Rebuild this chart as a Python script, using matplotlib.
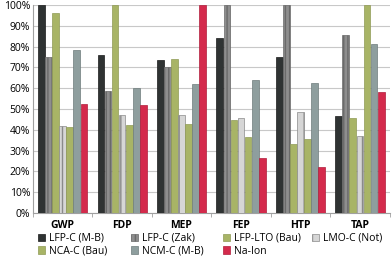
import numpy as np
from matplotlib import pyplot as plt
from matplotlib.ticker import PercentFormatter

categories = ['GWP', 'FDP', 'MEP', 'FEP', 'HTP', 'TAP']
series = ['LFP-C (M-B)', 'LFP-C (Zak)', 'LFP-LTO (Bau)', 'LMO-C (Not)',
          'NCA-C (Bau)', 'NCM-C (M-B)', 'Na-Ion']
lfp_mb = [100, 76, 73.5, 84, 75, 46.5]
lfp_zak = [75, 58.5, 70, 100, 100, 85.5]
lfp_lto = [96, 100, 74, 44.5, 33, 45.5]
lmo_not = [42, 47, 47, 45.5, 48.5, 37]
nca_bau = [41.5, 42.5, 43, 36.5, 35.5, 100]
ncm_mb = [78.5, 60, 62, 64, 62.3, 81]
na_ion = [52.5, 52, 100, 26.5, 22, 58]
values = [lfp_mb, lfp_zak, lfp_lto, lmo_not, nca_bau, ncm_mb, na_ion]

colors = ['#2f3333', '#8e8e8e', '#a8b466', '#d6d6d6', '#a8b466', '#8e9e9e', '#d42a4c']
edges = ['#1a1a1a', '#6a6a6a', '#8f9a55', '#8a8a8a', '#8f9a55', '#6e7c7c', '#b01e3c']
hatches = [None, '||||', None, '||', None, None, None]

plt.rcParams['font.family'] = ['Open Sans', 'DejaVu Sans']
plt.rcParams['hatch.color'] = '#b0b0b0'
fig = plt.figure(figsize=(3.92, 2.57), dpi=100)
ax = fig.add_axes([0.084, 0.171, 0.91, 0.81])

x = np.arange(len(categories))
width = 0.119
handles = []
for i, vals in enumerate(values):
    off = (i - 3) * width
    b = ax.bar(x + off, vals, width * 0.95, color=colors[i], edgecolor=edges[i],
               linewidth=0.5, hatch=hatches[i], label=series[i], zorder=3)
    handles.append(b)

ax.set_xlim(-0.5, len(categories) - 0.5)
ax.set_ylim(0, 100)
ax.set_yticks(range(0, 101, 10))
ax.yaxis.set_major_formatter(PercentFormatter(decimals=0))
ax.set_xticks(x)
ax.set_xticklabels(categories, fontweight='bold', fontsize=7.5)
ax.set_xticks(np.arange(-0.5, len(categories)), minor=True)
ax.tick_params(axis='x', which='major', length=0, pad=5)
ax.tick_params(axis='x', which='minor', length=3, color='#a0a0a0')
ax.tick_params(axis='y', length=0, labelsize=7.5, pad=2)
ax.grid(axis='y', color='#c8c8c8', linewidth=0.8, zorder=0)
for s in ['top', 'right']:
    ax.spines[s].set_visible(False)
ax.spines['left'].set_color('#a0a0a0')
ax.spines['bottom'].set_color('#a0a0a0')

# legend: 4 evenly spaced columns, filled row by row
columns = [[0, 4], [1, 5], [2, 6], [3]]
col_x = [38, 131, 223, 312]
for cx, col in zip(col_x, columns):
    leg = fig.legend([handles[k] for k in col], [series[k] for k in col],
                     loc='upper left', bbox_to_anchor=(cx / 392, 1 - 233 / 257),
                     ncol=1, frameon=False, fontsize=7.5, handlelength=0.7,
                     handleheight=0.7, handletextpad=0.4, labelspacing=0.15,
                     borderaxespad=0, borderpad=0)

fig.savefig('out.png', dpi=100)
